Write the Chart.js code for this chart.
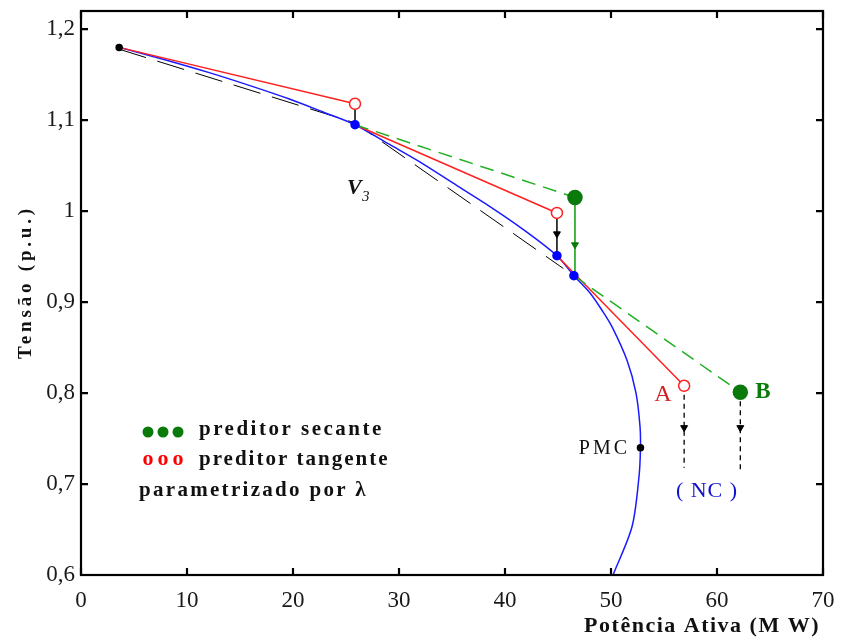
<!DOCTYPE html>
<html>
<head>
<meta charset="utf-8">
<script src="https://cdn.jsdelivr.net/npm/chart.js@4.4.0/dist/chart.umd.min.js"></script>
<style>
  html, body { margin: 0; padding: 0; background: #fff; }
  #wrap { width: 841px; height: 643px; }
</style>
</head>
<body>
<div id="wrap"><canvas id="cv" width="841" height="643"></canvas></div>
<script>
// Curva PV (potência ativa x tensão) e preditores
const curvaP = [3.6, 7.74, 12.17, 15.94, 19.72, 22.83, 25.85, 29.15, 32.26, 35.47, 38.58, 41.70, 44.9, 46.5, 48.02, 49.15, 50.09, 51.51, 52.36, 52.74, 52.78, 52.64, 51.98, 50.19];
const curvaV = [1.18, 1.167, 1.152, 1.138, 1.123, 1.109, 1.095, 1.073, 1.052, 1.028, 1.005, 0.980, 0.951, 0.929, 0.910, 0.891, 0.873, 0.836, 0.800, 0.763, 0.740, 0.708, 0.653, 0.600];

// preditor tangente (vermelho), segmentos separados por null
const tangP = [3.6, 25.85, null, 25.85, 44.9, null, 44.9, 56.9];
const tangV = [1.18, 1.118, null, 1.095, 0.998, null, 0.951, 0.808];
const tangCircP = [25.85, 44.9, 56.9];
const tangCircV = [1.118, 0.998, 0.808];

// preditor secante (verde)
const secP = [25.85, 46.6, null, 46.5, 62.2];
const secV = [1.095, 1.015, null, 0.929, 0.801];
const secCorrP = [46.6, 46.6];
const secCorrV = [1.015, 0.929];
const secDotP = [46.6, 62.2];
const secDotV = [1.015, 0.801];

// parametrizado por lambda (preto tracejado)
const lambdaP = [3.6, 25.85, 45.5];
const lambdaV = [1.178, 1.097, 0.937];

// corretores (preto)
const corrP = [25.85, 25.85, null, 44.9, 44.9];
const corrV = [1.118, 1.095, null, 0.998, 0.951];
const ncP = [56.9, 56.9, null, 62.2, 62.2];
const ncV = [0.808, 0.718, null, 0.801, 0.713];
const setaP = [44.9, 46.6, 56.9, 62.2];
const setaV = [0.975, 0.963, 0.762, 0.762];
const setaCor = ['#000', '#0a7a0a', '#000', '#000'];

// pontos convergidos
const solP = [25.85, 44.9, 46.5];
const solV = [1.095, 0.951, 0.929];
const pretoP = [3.6, 52.78];
const pretoV = [1.18, 0.74];

const xTicks = [0, 10, 20, 30, 40, 50, 60, 70];
const yTicks = [0.6, 0.7, 0.8, 0.9, 1.0, 1.1, 1.2];

const pts = (xs, ys) => xs.map((x, i) => (x === null ? { x: NaN, y: null } : { x, y: ys[i] }));

const SERIF = '"Liberation Serif", "DejaVu Serif", serif';

// ── frame, inward ticks and annotations ─────────────
function txt(ctx, s, x, y, font, color, align, spacing) {
  ctx.font = font;
  ctx.fillStyle = color;
  ctx.textAlign = align;
  ctx.letterSpacing = (spacing || 0) + 'px';
  ctx.fillText(s, x, y);
  ctx.letterSpacing = '0px';
}

// drop the label overhang so the plot box sits where the padding says
function noOverhang(s) {
  s.paddingTop = 0; s.paddingBottom = 0;
  s.paddingLeft = 0; s.paddingRight = 0;
}

const decor = {
  id: 'decor',
  afterDraw(chart) {
    const { ctx, chartArea: a, scales } = chart;
    ctx.save();
    ctx.strokeStyle = '#000';
    ctx.lineWidth = 2.2;
    ctx.strokeRect(a.left, a.top, a.right - a.left, a.bottom - a.top);
    ctx.beginPath();
    xTicks.forEach(v => {
      const px = scales.x.getPixelForValue(v);
      ctx.moveTo(px, a.bottom); ctx.lineTo(px, a.bottom - 7);
      ctx.moveTo(px, a.top);    ctx.lineTo(px, a.top + 7);
    });
    yTicks.forEach(v => {
      const py = scales.y.getPixelForValue(v);
      ctx.moveTo(a.left, py);  ctx.lineTo(a.left + 7, py);
      ctx.moveTo(a.right, py); ctx.lineTo(a.right - 7, py);
    });
    ctx.stroke();

    ctx.textBaseline = 'middle';
    // V3
    txt(ctx, 'V', 347, 188, 'italic bold 22px ' + SERIF, '#111', 'left');
    txt(ctx, '3', 362, 197, 'italic 15px ' + SERIF, '#111', 'left');

    // A / B
    txt(ctx, 'A', 663, 395, '24px ' + SERIF, '#d42020', 'center');
    txt(ctx, 'B', 763, 392, 'bold 23px ' + SERIF, '#0a7a0a', 'center');

    // PMC
    txt(ctx, 'PMC', 630, 449, '20px ' + SERIF, '#111', 'right', 3);

    // (NC)
    txt(ctx, '( NC )', 707, 491, '22px ' + SERIF, '#1010d0', 'center', 1);

    // legend block
    ctx.fillStyle = '#0a7a0a';
    [148, 163, 178].forEach(x => {
      ctx.beginPath(); ctx.arc(x, 432, 5.5, 0, Math.PI * 2); ctx.fill();
    });
    [148, 163, 178].forEach(x => txt(ctx, 'o', x, 459, 'bold 22px ' + SERIF, '#ff0000', 'center'));
    txt(ctx, 'preditor secante', 199, 430, 'bold 21px ' + SERIF, '#111', 'left', 2.5);
    txt(ctx, 'preditor tangente', 199, 460, 'bold 21px ' + SERIF, '#111', 'left', 2);
    txt(ctx, 'parametrizado por λ', 139, 491, 'bold 21px ' + SERIF, '#111', 'left', 2.3);

    // axis titles
    txt(ctx, 'Potência Ativa (M W)', 820, 626, 'bold 22px ' + SERIF, '#111', 'right', 1.5);
    ctx.translate(26, 282);
    ctx.rotate(-Math.PI / 2);
    txt(ctx, 'Tensão (p.u.)', 0, 0, 'bold 19px ' + SERIF, '#111', 'center', 3.8);
    ctx.restore();
  }
};

const line = (data, color, extra) => Object.assign({
  data, showLine: true, borderColor: color, backgroundColor: color,
  borderWidth: 1.5, pointRadius: 0, spanGaps: false, tension: 0
}, extra || {});

new Chart(document.getElementById('cv'), {
  type: 'scatter',
  data: {
    datasets: [
      line(pts(pretoP, pretoV), '#000', { showLine: false, pointRadius: 3 }),
      line(pts(secDotP, secDotV), '#0a7a0a', { showLine: false, pointRadius: 7 }),
      line(pts(tangCircP, tangCircV), '#ff2020', { showLine: false, pointRadius: 5.5, pointBorderWidth: 1.5, backgroundColor: '#fff' }),
      line(pts(solP, solV), '#0000ff', { showLine: false, pointRadius: 4 }),
      line(pts(setaP, setaV), '#000', { showLine: false, pointStyle: 'triangle', rotation: 180, pointRadius: 4,
        backgroundColor: setaCor, borderColor: setaCor, borderWidth: 1 }),
      line(pts(corrP, corrV), '#000'),
      line(pts(ncP, ncV), '#000', { borderDash: [5, 4], borderWidth: 1.3 }),
      line(pts(secCorrP, secCorrV), '#0a9a0a'),
      line(pts(secP, secV), '#20b020', { borderDash: [14, 8] }),
      line(pts(tangP, tangV), '#ff2020'),
      line(pts(curvaP, curvaV), '#1a1aff', { tension: 0.3 }),
      line(pts(lambdaP, lambdaV), '#000', { borderDash: [28, 12], borderWidth: 1 })
    ]
  },
  options: {
    responsive: false,
    animation: false,
    layout: { autoPadding: false, padding: { top: 11, right: 18, left: 0, bottom: 0 } },
    plugins: { legend: { display: false }, tooltip: { enabled: false } },
    scales: {
      x: {
        type: 'linear', min: 0, max: 70,
        afterFit: s => { s.height = 68; noOverhang(s); },
        afterBuildTicks: s => { s.ticks = xTicks.map(value => ({ value })); },
        grid: { display: false, drawTicks: false },
        border: { display: false },
        ticks: { padding: 12, color: '#1a1a1a', font: { family: SERIF, size: 23 } }
      },
      y: {
        type: 'linear', min: 0.6, max: 1.22,
        afterFit: s => { s.width = 81; noOverhang(s); },
        afterBuildTicks: s => { s.ticks = yTicks.map(value => ({ value })); },
        grid: { display: false, drawTicks: false },
        border: { display: false },
        ticks: {
          padding: 6, color: '#1a1a1a', font: { family: SERIF, size: 23 },
          callback: v => {
            const r = Math.round(v * 10) / 10;
            return r === 1 ? '1' : r.toFixed(1).replace('.', ',');
          }
        }
      }
    }
  },
  plugins: [decor]
});
</script>
</body>
</html>
